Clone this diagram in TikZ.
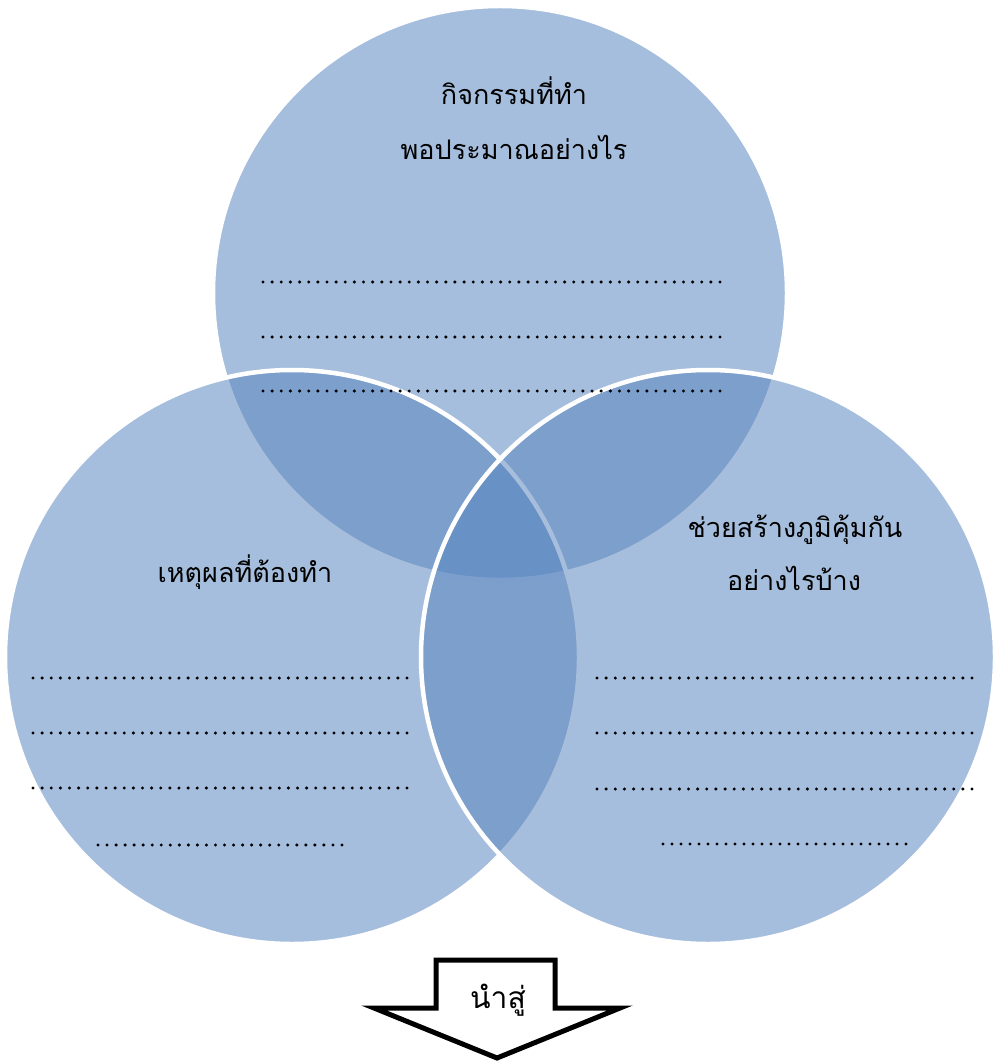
\documentclass[tikz,border=0pt]{standalone}
\usepackage{fontspec}
\newfontfamily\thaifont[Script=Thai]{Loma}
\definecolor{vennblue}{RGB}{87,132,190}
\tikzset{
  venn/.style={fill=vennblue, fill opacity=0.53, draw=white, line width=4.5pt},
  lbl/.style={anchor=base, inner sep=0pt, font=\thaifont\fontsize{27}{32}\selectfont},
  arrowbox/.style={draw=black, fill=white, line width=5pt, line join=miter}
}
\newcommand\dotrowxy[4]{%
  \pgfmathsetmacro\dstep{(#2-#1)/(#4-1)}%
  \foreach \i in {0,...,\numexpr#4-1\relax}{\fill[black] ({#1+\i*\dstep},#3) circle (1.7);}%
}
\begin{document}
\begin{tikzpicture}[x=1pt,y=-1pt]
\useasboundingbox (0,0) rectangle (996,1064);
% circles
\path[venn] (500,293) circle (287);
\path[venn] (292,657) circle (287);
\path[venn] (708,657) circle (287);
% top circle labels
\node[lbl] (t1) at (514,105) {กิจกรรมที่ทำ};
\node[lbl] (t2) at (514,160) {พอประมาณอย่างไร};
% left circle label
\node[lbl] (l1) at (245,582) {เหตุผลที่ต้องทำ};
% right circle labels
\node[lbl] (r1) at (795,537) {ช่วยสร้างภูมิคุ้มกัน};
\node[lbl] (r2) at (794,590) {อย่างไรบ้าง};
% dotted rows
\dotrowxy{263}{720}{282}{51}
\dotrowxy{263}{720}{337}{51}
\dotrowxy{263}{720}{391}{51}
\dotrowxy{33}{407}{678}{42}
\dotrowxy{33}{407}{733}{42}
\dotrowxy{33}{407}{788}{42}
\dotrowxy{98}{342}{845}{28}
\dotrowxy{597}{972}{678}{42}
\dotrowxy{597}{972}{733}{42}
\dotrowxy{597}{972}{789}{42}
\dotrowxy{663}{906}{844}{28}
% arrow
\draw[arrowbox] (436,960) -- (555,960) -- (555,1008) -- (620,1008) -- (497,1058) -- (374,1008) -- (436,1008) -- cycle;
\node[lbl, font=\thaifont\fontsize{30}{34}\selectfont] (a1) at (498,1008) {นำสู่};
\end{tikzpicture}
\end{document}
